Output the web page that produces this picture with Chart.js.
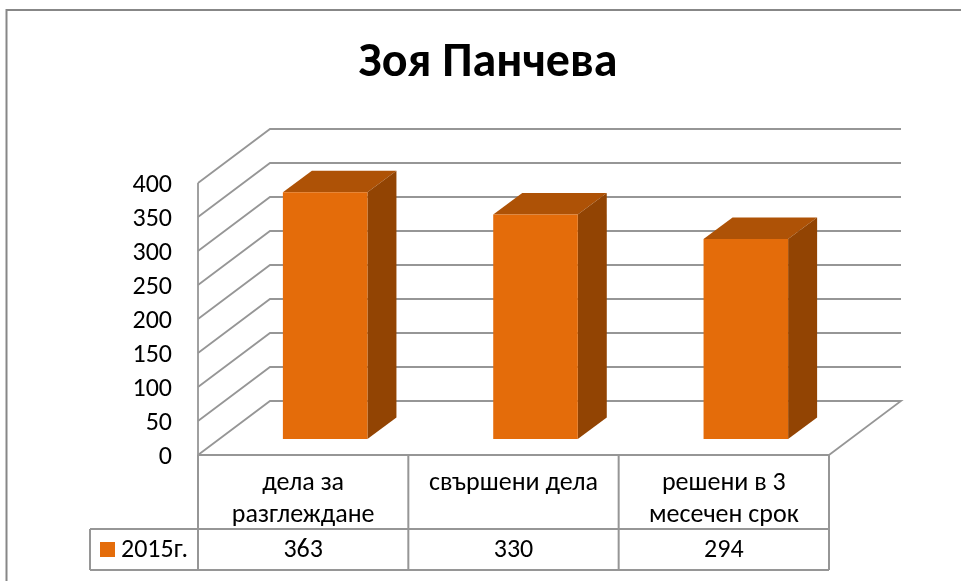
<!DOCTYPE html>
<html>
<head>
<meta charset="utf-8">
<script src="https://cdn.jsdelivr.net/npm/chart.js@4"></script>
<style>
  body { margin: 0; background: #fff; }
  canvas { display: block; }
</style>
</head>
<body>
<canvas id="chart" width="961" height="581"></canvas>
<script>
var titleText = 'Зоя Панчева';
var seriesName = '2015г.';
var categories = [['дела за', 'разглеждане'], ['свършени дела'], ['решени в 3', 'месечен срок']];
var values = [363, 330, 294];

var fontFamily = 'Carlito, Lato, "Open Sans", sans-serif';
var lineColor = '#969696';
var wallDepth = { x: 72, y: 54 };
var barShift = { x: 22, y: 16 };
var barDepth = { x: 29, y: 21.5 };

// walls, floor, table and title; the y ticks give the grid positions
var scenePlugin = {
  id: 'scene',
  beforeDatasetsDraw: function(chart) {
    var ctx = chart.ctx, a = chart.chartArea, y = chart.scales.y;
    ctx.save();
    ctx.strokeStyle = lineColor;
    ctx.lineWidth = 1.8;
    y.ticks.forEach(function(t, i) {
      var py = y.getPixelForTick(i);
      ctx.beginPath();
      ctx.moveTo(a.left, py);
      ctx.lineTo(a.left + wallDepth.x, py - wallDepth.y);
      ctx.lineTo(a.right + wallDepth.x, py - wallDepth.y);
      if (t.value === 0) ctx.lineTo(a.right, py);
      ctx.stroke();
    });
    ctx.beginPath();
    ctx.moveTo(a.left, a.top);
    ctx.lineTo(a.left, a.bottom);
    ctx.stroke();
    ctx.restore();
  },
  beforeDatasetDraw: function(chart) {
    var ctx = chart.ctx;
    // sides of each bar, then the library draws the front shifted into the floor
    chart.getDatasetMeta(0).data.forEach(function(bar) {
      var l = bar.x - bar.width / 2 + barShift.x;
      var r = bar.x + bar.width / 2 + barShift.x;
      var t = bar.y - barShift.y;
      var b = bar.base - barShift.y;
      ctx.fillStyle = '#AE5206';
      ctx.beginPath();
      ctx.moveTo(l, t);
      ctx.lineTo(l + barDepth.x, t - barDepth.y);
      ctx.lineTo(r + barDepth.x, t - barDepth.y);
      ctx.lineTo(r, t);
      ctx.closePath();
      ctx.fill();
      ctx.fillStyle = '#924403';
      ctx.beginPath();
      ctx.moveTo(r, t);
      ctx.lineTo(r + barDepth.x, t - barDepth.y);
      ctx.lineTo(r + barDepth.x, b - barDepth.y);
      ctx.lineTo(r, b);
      ctx.closePath();
      ctx.fill();
    });
    ctx.save();
    ctx.translate(barShift.x, -barShift.y);
  },
  afterDatasetDraw: function(chart) {
    chart.ctx.restore();
  },
  afterDraw: function(chart) {
    var ctx = chart.ctx, a = chart.chartArea, x = chart.scales.x, y = chart.scales.y;
    var row1 = 529, row2 = 570, legendLeft = 90;
    var step = (a.right - a.left) / categories.length;
    ctx.save();
    // chart frame, open on the right and bottom like the source
    ctx.strokeStyle = '#878787';
    ctx.lineWidth = 2;
    ctx.beginPath();
    ctx.moveTo(6.5, 581);
    ctx.lineTo(6.5, 10);
    ctx.lineTo(961, 10);
    ctx.stroke();
    // data table
    ctx.strokeStyle = lineColor;
    ctx.lineWidth = 2;
    ctx.beginPath();
    ctx.moveTo(a.left, a.bottom); ctx.lineTo(a.right, a.bottom);
    ctx.moveTo(legendLeft, row1); ctx.lineTo(a.right, row1);
    ctx.moveTo(legendLeft, row2); ctx.lineTo(a.right, row2);
    ctx.moveTo(legendLeft, row1); ctx.lineTo(legendLeft, row2);
    for (var i = 0; i <= categories.length; i++) {
      ctx.moveTo(a.left + i * step, a.bottom);
      ctx.lineTo(a.left + i * step, row2);
    }
    ctx.stroke();
    ctx.fillStyle = '#000';
    ctx.font = '26px ' + fontFamily;
    ctx.textBaseline = 'middle';
    // y tick labels sit a little lower than the scale would put them
    ctx.textAlign = 'right';
    y.ticks.forEach(function(t, i) {
      ctx.fillText(t.label, 172, y.getPixelForTick(i) + 2);
    });
    ctx.textAlign = 'center';
    values.forEach(function(v, i) {
      ctx.fillText(String(v), x.getPixelForTick(i), 550);
    });
    ctx.textAlign = 'left';
    ctx.fillText(seriesName, 121, 550);
    ctx.fillStyle = '#E46C0A';
    ctx.fillRect(100, 542, 15, 15);
    // title
    ctx.fillStyle = '#000';
    ctx.font = 'bold 48px ' + fontFamily;
    ctx.textAlign = 'center';
    ctx.fillText(titleText, 488, 64);
    ctx.restore();
  }
};

new Chart(document.getElementById('chart'), {
  type: 'bar',
  data: {
    labels: categories,
    datasets: [{
      label: seriesName,
      data: values,
      backgroundColor: '#E46C0A',
      categoryPercentage: 1,
      barPercentage: 0.402,
      clip: false
    }]
  },
  options: {
    responsive: false,
    animation: false,
    layout: { padding: { top: 183, right: 132, bottom: 0, left: 0 } },
    plugins: { legend: { display: false }, tooltip: { enabled: false } },
    scales: {
      x: {
        grid: { display: false },
        border: { display: false },
        afterFit: function(scale) { scale.height = 126; },
        ticks: {
          color: '#000',
          padding: 5,
          maxRotation: 0,
          autoSkip: false,
          font: { family: fontFamily, size: 26, lineHeight: 1.23 }
        }
      },
      y: {
        min: 0,
        max: 400,
        grid: { display: false, drawTicks: false },
        border: { display: false },
        afterFit: function(scale) { scale.width = 198; },
        ticks: { stepSize: 50, display: false }
      }
    }
  },
  plugins: [scenePlugin]
});
</script>
</body>
</html>
